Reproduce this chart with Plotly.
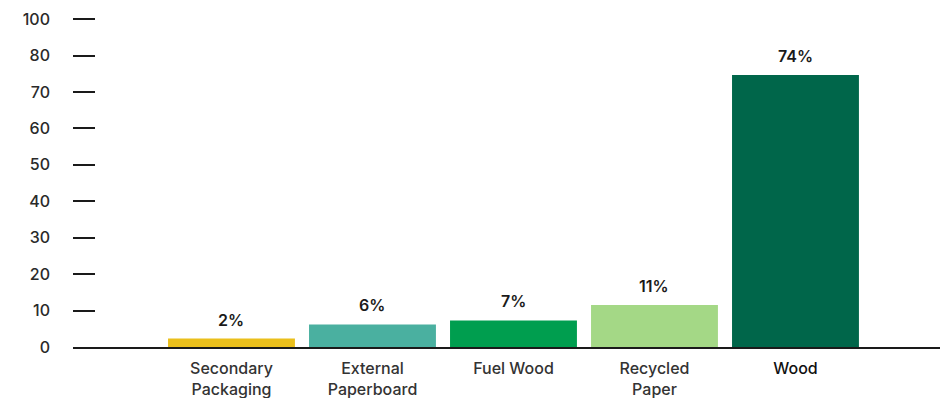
import plotly.graph_objects as go

categories = ["Secondary<br>Packaging", "External<br>Paperboard", "Fuel Wood", "Recycled<br>Paper", "Wood"]
values = [2.3, 6.2, 7.3, 11.5, 74.7]
value_labels = ["2%", "6%", "7%", "11%", "74%"]
colors = ["#EABF1B", "#4AB0A0", "#009E4F", "#A4D886", "#00664A"]
y_tickvals = [0, 10, 20, 30, 40, 50, 60, 70, 80, 90]
y_ticktext = ["0", "10", "20", "30", "40", "50", "60", "70", "80", "100"]

FONT = "Inter"
x_ticktext = [c if c != "Wood" else "<span style='color:#111111'>Wood</span>" for c in categories]

fig = go.Figure()
fig.add_trace(go.Bar(
    x=list(range(len(categories))),
    y=values,
    marker=dict(color=colors, line=dict(width=0)),
    width=0.9,
    hoverinfo="skip",
))

for i, (v, lab) in enumerate(zip(values, value_labels)):
    fig.add_annotation(
        x=i, y=v, text=lab, showarrow=False,
        xanchor="center", yanchor="middle", yshift=19,
        font=dict(family=FONT, size=16, color="#1a1a1a", weight=600),
    )

fig.update_layout(
    width=940, height=398,
    margin=dict(l=73, r=0, t=17, b=51),
    paper_bgcolor="white", plot_bgcolor="white",
    showlegend=False,
    font=dict(family=FONT, size=16, color="#333333", weight=500),
    xaxis=dict(
        range=[-1.124, 5.025],
        tickvals=list(range(len(categories))),
        ticktext=x_ticktext,
        showgrid=False, zeroline=False,
        showline=True, linecolor="#1a1a1a", linewidth=2,
        ticks="", ticklabelstandoff=6, automargin=False,
        tickfont=dict(family=FONT, size=16, color="#333333", weight=500),
    ),
    yaxis=dict(
        range=[0, 90.6],
        tickvals=y_tickvals, ticktext=y_ticktext,
        showgrid=False, zeroline=False, showline=False,
        ticks="inside", ticklen=22, tickwidth=1.5, tickcolor="#1a1a1a",
        ticklabelstandoff=22, automargin=False,
        tickfont=dict(family=FONT, size=16, color="#2a2a2a", weight=500),
    ),
)

fig.write_html("out.html")
